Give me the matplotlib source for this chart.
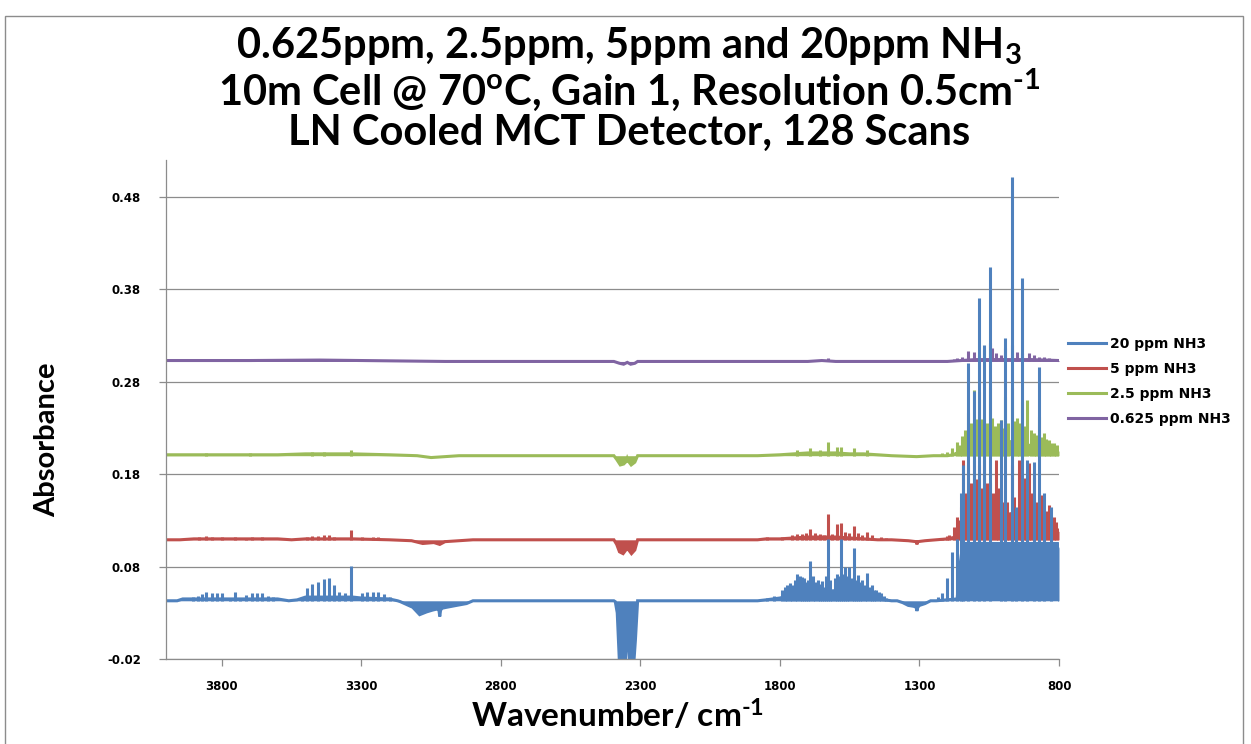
import matplotlib
matplotlib.use("Agg")
import matplotlib.pyplot as plt
from matplotlib.patches import Rectangle

# ---------------- data ----------------
labels = ["20 ppm NH3", "5 ppm NH3", "2.5 ppm NH3", "0.625 ppm NH3"]
colors = ["#4F81BD", "#C0504D", "#9BBB59", "#8064A2"]

x_ticks = [3800, 3300, 2800, 2300, 1800, 1300, 800]
y_ticks = [-0.02, 0.08, 0.18, 0.28, 0.38, 0.48]

# --- 20 ppm (blue) ---
blue_base = 0.043
blue_env_wn = [4000, 3960, 3940, 3600, 3560, 3530, 3500, 3330, 3300, 3200, 3170, 3160, 3116, 3091,
               3066, 3044, 3030, 3022, 3019, 3016, 3010, 2994, 2959, 2923, 2900, 2395, 2390, 2383,
               2375, 2365, 2355, 2350, 2347, 2343, 2338, 2325, 2318, 2310, 2300, 1880, 1850, 1800,
               1750, 1700, 1650, 1600, 1550, 1500, 1450, 1400, 1380, 1360, 1340, 1320,
               1312, 1309, 1306, 1300, 1280, 1260, 1240, 1165, 1155, 1145, 805, 800]
blue_env_ab = [0.043, 0.043, 0.045, 0.045, 0.043, 0.044, 0.047, 0.047, 0.046, 0.045, 0.043, 0.042,
               0.036, 0.028, 0.031, 0.033, 0.034, 0.033, 0.026, 0.033, 0.035, 0.036, 0.038, 0.040,
               0.043, 0.043, 0.042, 0.030, -0.025, -0.030, -0.030, 0.000, 0.036, 0.000, -0.030,
               -0.030, 0.000, 0.043, 0.043, 0.043, 0.044, 0.046, 0.050, 0.053, 0.053, 0.054, 0.052,
               0.048, 0.045, 0.043, 0.043, 0.041, 0.038, 0.037, 0.036, 0.032, 0.036,
               0.038, 0.040, 0.043, 0.043, 0.045, 0.080, 0.105, 0.105, 0.100]
blue_line_wn = [3903, 3885, 3871, 3857, 3835, 3817, 3800, 3770, 3753, 3735, 3714, 3692, 3674, 3656,
                3635, 3617, 3513, 3495, 3477, 3456, 3435, 3417, 3399, 3381, 3359, 3338, 3299, 3281,
                3259, 3241, 3220, 3198,
                1845, 1820, 1792, 1783, 1774, 1765, 1756, 1747, 1738, 1729, 1720, 1713, 1706, 1699,
                1692, 1683, 1674, 1665, 1656, 1648, 1641, 1634, 1627, 1620, 1613, 1604, 1595, 1588,
                1581, 1574, 1566, 1559, 1552, 1543, 1534, 1527, 1520, 1512, 1505, 1496, 1488, 1479,
                1470, 1462, 1455, 1446, 1437, 1428, 1420,
                1233, 1219, 1201, 1183, 1165, 1151, 1144, 1126, 1105, 1087, 1069, 1047, 1009, 995,
                969, 954, 933, 915, 890, 872, 854, 829, 800]
blue_line_ab = [0.047, 0.048, 0.050, 0.052, 0.051, 0.051, 0.051, 0.046, 0.052, 0.046, 0.049, 0.051,
                0.051, 0.051, 0.048, 0.047, 0.047, 0.057, 0.061, 0.063, 0.067, 0.068, 0.060, 0.052,
                0.051, 0.081, 0.051, 0.052, 0.052, 0.052, 0.050, 0.047,
                0.046, 0.048, 0.055, 0.058, 0.060, 0.062, 0.060, 0.066, 0.072, 0.070, 0.069, 0.068,
                0.063, 0.066, 0.086, 0.070, 0.063, 0.066, 0.061, 0.064, 0.058, 0.070, 0.110, 0.065,
                0.055, 0.068, 0.072, 0.070, 0.110, 0.072, 0.080, 0.070, 0.080, 0.068, 0.100, 0.065,
                0.071, 0.063, 0.066, 0.060, 0.073, 0.058, 0.060, 0.055, 0.055, 0.052, 0.051, 0.048,
                0.046,
                0.047, 0.051, 0.068, 0.096, 0.110, 0.160, 0.190, 0.300, 0.270, 0.371, 0.320, 0.404,
                0.239, 0.327, 0.502, 0.145, 0.392, 0.195, 0.193, 0.296, 0.160, 0.145, 0.082]

# --- 5 ppm (red) ---
red_base = 0.109
red_env_wn = [4000, 3950, 3900, 3600, 3550, 3500, 3330, 3200, 3120, 3080, 3040, 3019, 3000, 2950,
              2900, 2395, 2385, 2375, 2362, 2352, 2347, 2342, 2332, 2320, 2310, 1880, 1850, 1800,
              1750, 1700, 1650, 1600, 1550, 1500, 1450, 1400, 1340, 1312, 1309, 1306, 1280, 1240,
              1200, 1170, 1150, 1130, 1100, 1070, 1040, 1010, 980, 950, 920, 890, 860, 830, 800]
red_env_ab = [0.109, 0.109, 0.110, 0.110, 0.109, 0.110, 0.110, 0.109, 0.108, 0.105, 0.106, 0.104,
              0.107, 0.108, 0.109, 0.109, 0.104, 0.096, 0.094, 0.098, 0.104, 0.098, 0.094, 0.098,
              0.109, 0.109, 0.110, 0.110, 0.111, 0.112, 0.112, 0.112, 0.111, 0.110, 0.109, 0.109,
              0.108, 0.107, 0.104, 0.107, 0.108, 0.109, 0.110, 0.112, 0.120, 0.134, 0.144, 0.146,
              0.144, 0.140, 0.136, 0.140, 0.144, 0.140, 0.132, 0.124, 0.118]
red_line_wn = [3880, 3857, 3835, 3800, 3753, 3714, 3692, 3656, 3495, 3477, 3456, 3435, 3417, 3399,
               3338, 3299, 3259, 3241,
               1845, 1792, 1756, 1738, 1720, 1706, 1692, 1674, 1656, 1641, 1627, 1613, 1595, 1581,
               1566, 1552, 1534, 1520, 1505, 1488, 1470, 1437, 1420,
               1219, 1201, 1194, 1176, 1165, 1158, 1151, 1144, 1135, 1126, 1115, 1105, 1096, 1087,
               1078, 1069, 1058, 1047, 1036, 1026, 1017, 1008, 1000, 988, 979, 969, 960, 944, 935,
               926, 917, 908, 899, 890, 880, 872, 865, 845, 836, 827, 818, 809, 800]
red_line_ab = [0.112, 0.113, 0.112, 0.112, 0.112, 0.111, 0.112, 0.112, 0.112, 0.113, 0.113, 0.114,
               0.114, 0.112, 0.120, 0.112, 0.112, 0.112,
               0.112, 0.112, 0.114, 0.115, 0.115, 0.116, 0.121, 0.116, 0.115, 0.114, 0.137, 0.115,
               0.126, 0.127, 0.117, 0.116, 0.124, 0.116, 0.114, 0.117, 0.114, 0.112, 0.111,
               0.111, 0.113, 0.114, 0.123, 0.134, 0.130, 0.145, 0.195, 0.160, 0.190, 0.170, 0.195,
               0.175, 0.190, 0.165, 0.195, 0.170, 0.170, 0.160, 0.195, 0.165, 0.163, 0.150, 0.150,
               0.139, 0.190, 0.155, 0.195, 0.160, 0.176, 0.165, 0.192, 0.160, 0.177, 0.150, 0.160,
               0.158, 0.140, 0.147, 0.135, 0.134, 0.128, 0.122]

# --- 2.5 ppm (green) ---
green_base = 0.200
green_env_wn = [4000, 3900, 3600, 3500, 3330, 3200, 3100, 3050, 3000, 2950, 2395, 2385, 2372, 2360,
                2350, 2347, 2343, 2333, 2320, 2310, 1880, 1800, 1750, 1700, 1650, 1600, 1550, 1500,
                1450, 1400, 1310, 1250, 1200, 1180, 1150, 1130, 1100, 1070, 1040, 1010, 980, 950,
                920, 890, 860, 830, 800]
green_env_ab = [0.201, 0.201, 0.201, 0.202, 0.202, 0.201, 0.200, 0.198, 0.199, 0.200, 0.200, 0.196,
                0.190, 0.191, 0.194, 0.197, 0.194, 0.190, 0.193, 0.200, 0.200, 0.201, 0.202, 0.203,
                0.203, 0.203, 0.202, 0.202, 0.201, 0.200, 0.199, 0.200, 0.200, 0.201, 0.205, 0.211,
                0.216, 0.217, 0.215, 0.213, 0.215, 0.216, 0.213, 0.209, 0.207, 0.206, 0.205]
green_line_wn = [3857, 3700, 3477, 3435, 3338, 1738, 1692, 1656, 1627, 1595, 1581, 1534, 1488,
                 1233, 1219, 1201, 1183, 1165, 1156, 1147, 1137, 1126, 1115, 1105, 1096, 1087, 1078,
                 1069, 1058, 1047, 1040, 1030, 1017, 1008, 1000, 994, 982, 969, 960, 951, 942, 933,
                 924, 915, 902, 890, 881, 872, 863, 854, 845, 836, 827, 818, 809, 800]
green_line_ab = [0.203, 0.203, 0.204, 0.204, 0.206, 0.206, 0.208, 0.206, 0.215, 0.209, 0.209,
                 0.208, 0.206,
                 0.201, 0.203, 0.204, 0.208, 0.215, 0.212, 0.221, 0.228, 0.246, 0.235, 0.271, 0.240,
                 0.269, 0.240, 0.239, 0.235, 0.273, 0.241, 0.232, 0.235, 0.239, 0.230, 0.264, 0.235,
                 0.273, 0.238, 0.241, 0.235, 0.258, 0.232, 0.260, 0.228, 0.225, 0.222, 0.242, 0.220,
                 0.225, 0.218, 0.217, 0.214, 0.214, 0.212, 0.212]

# --- 0.625 ppm (purple) ---
purple_base = 0.302
purple_env_wn = [4000, 3700, 3450, 3300, 3000, 2395, 2375, 2360, 2347, 2335, 2320, 2310, 1700, 1650,
                 1600, 1240, 1200, 1150, 1100, 1000, 900, 800]
purple_env_ab = [0.303, 0.303, 0.3035, 0.303, 0.302, 0.302, 0.300, 0.299, 0.301, 0.299, 0.300, 0.302,
                 0.302, 0.303, 0.302, 0.302, 0.302, 0.303, 0.304, 0.304, 0.304, 0.303]
purple_line_wn = [3430, 3338, 1627, 1581,
                  1194, 1176, 1165, 1147, 1126, 1105, 1087, 1069, 1047, 1040, 1026, 1008, 994, 969,
                  951, 933, 908, 890, 872, 854, 836, 818, 800]
purple_line_ab = [0.305, 0.305, 0.306, 0.304,
                  0.3025, 0.305, 0.306, 0.307, 0.313, 0.312, 0.309, 0.314, 0.322, 0.317, 0.311,
                  0.309, 0.317, 0.320, 0.312, 0.311, 0.311, 0.309, 0.307, 0.307, 0.306, 0.305, 0.303]

# ---------------- figure ----------------
W, H = 1251, 744
fig = plt.figure(figsize=(W / 100, H / 100), dpi=100)
plt.rcParams["mathtext.default"] = "regular"

# outer chart border
fig.patches.append(Rectangle((5 / W, -0.01), 1238 / W, 1 - 16 / H + 0.01,
                             transform=fig.transFigure, fill=False,
                             edgecolor="#8c8c8c", linewidth=1.0))

ax = fig.add_axes([166 / W, 1 - 659 / H, (1059 - 166) / W, (659 - 160) / H])

series = [
    (purple_base, purple_env_wn, purple_env_ab, purple_line_wn, purple_line_ab, 3),
    (green_base, green_env_wn, green_env_ab, green_line_wn, green_line_ab, 2),
    (red_base, red_env_wn, red_env_ab, red_line_wn, red_line_ab, 1),
    (blue_base, blue_env_wn, blue_env_ab, blue_line_wn, blue_line_ab, 0),
]
handles = [None] * 4
LW = 2.2
for z, (base, ewn, eab, lwn, lab, idx) in enumerate(series):
    c = colors[idx]
    zo = 3 + z
    ax.fill_between(ewn, base, eab, color=c, linewidth=0, zorder=zo)
    (h,) = ax.plot(ewn, eab, color=c, lw=LW, zorder=zo, solid_joinstyle="miter")
    ax.vlines(lwn, base, lab, color=c, lw=LW, zorder=zo)
    handles[idx] = h

ax.set_xlim(4000, 800)
ax.set_ylim(-0.02, 0.52)
ax.set_xticks(x_ticks)
ax.set_yticks(y_ticks)
ax.set_xticklabels([str(v) for v in x_ticks])
ax.set_yticklabels(["%.2f" % v for v in y_ticks])

grid_c = "#8c8c8c"
ax.yaxis.grid(True, color=grid_c, linewidth=0.9, zorder=1)
ax.set_axisbelow(True)
for s in ["top", "right"]:
    ax.spines[s].set_visible(False)
for s in ["left", "bottom"]:
    ax.spines[s].set_color(grid_c)
    ax.spines[s].set_linewidth(0.9)
    ax.spines[s].set_zorder(10)
ax.tick_params(axis="both", direction="out", length=5, width=0.9, color=grid_c,
               labelsize=8.5)
for t in ax.get_xticklabels() + ax.get_yticklabels():
    t.set_fontfamily("DejaVu Sans")
    t.set_fontweight("bold")
ax.tick_params(axis="x", pad=10)
ax.tick_params(axis="y", pad=13)

# titles
title_font = dict(family="Lato", weight="bold", ha="center", va="center", size=30)
cx = 629 / W
fig.text(cx, 1 - 46 / H, "0.625ppm, 2.5ppm, 5ppm and 20ppm NH$_3$", **title_font)
fig.text(cx, 1 - 90 / H, "10m Cell @ 70$^o$C, Gain 1, Resolution 0.5cm$^{\u20101}$", **title_font)
fig.text(cx, 1 - 133 / H, "LN Cooled MCT Detector, 128 Scans", **title_font)

fig.text(618 / W, 1 - 715 / H, "Wavenumber/ cm$^{\u20101}$", family="Lato", weight="bold",
         size=24, ha="center", va="center")
fig.text(47 / W, 1 - 440 / H, "Absorbance", family="Lato", weight="bold", size=21,
         ha="center", va="center", rotation=90)

fig.legend(handles, labels, loc="upper left", bbox_to_anchor=(1068 / W, 1 - 337 / H),
           frameon=False, handlelength=2.7, handletextpad=0.3, labelspacing=0.8,
           prop=dict(family="DejaVu Sans", weight="bold", size=10), borderaxespad=0,
           borderpad=0)

fig.savefig("out.png", dpi=100)
